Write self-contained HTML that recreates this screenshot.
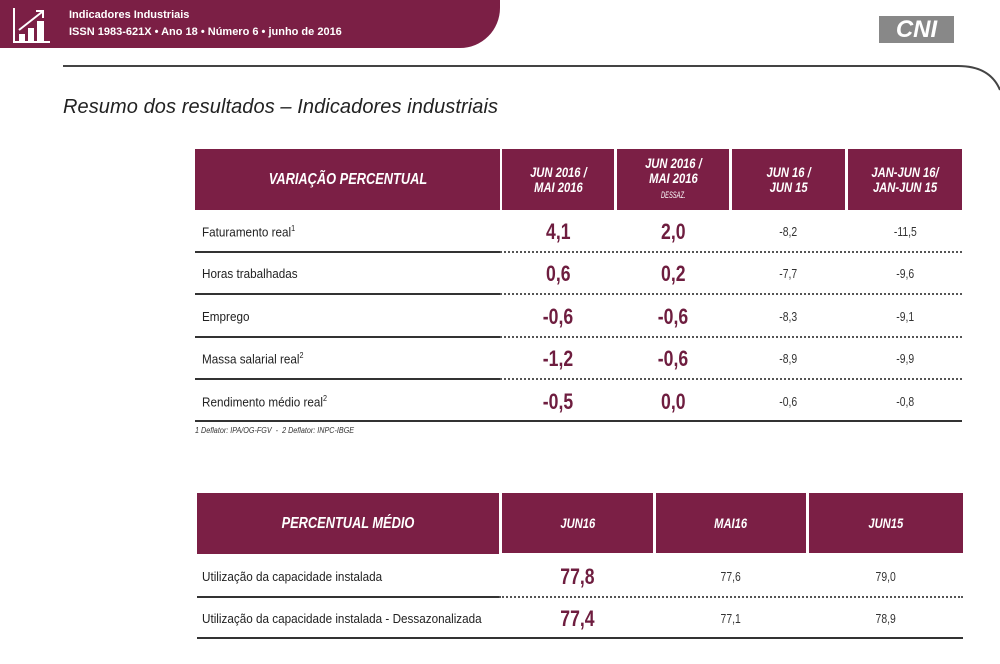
<!DOCTYPE html>
<html><head><meta charset="utf-8"><style>
*{margin:0;padding:0;box-sizing:border-box}
body{width:1000px;height:664px;background:#fff;position:relative;overflow:hidden;font-family:"Liberation Sans",sans-serif;color:#222}
.a{position:absolute}
.band{left:0;top:0;width:500px;height:48px;background:#7b1f45;border-bottom-right-radius:40px}
.hd{background:#7b1f45;color:#fff;font-weight:bold;font-style:italic;display:flex;flex-direction:column;align-items:center;justify-content:center;text-align:center;font-size:14px;line-height:15px}
.hd span,.big span,.sm span{display:inline-block;transform:scaleX(.8)}
.lbl{font-size:13px;color:#222;transform:scaleX(.9);transform-origin:left;white-space:nowrap}
.big{font-size:22px;font-weight:bold;color:#6e1d3f;text-align:center}
.sm{font-size:13px;text-align:center;color:#333}
.sol{height:2px;background:#333}
.dot{height:0;border-top:2px dotted #555}
</style></head><body>
<div class="a band"></div>
<svg class="a" style="left:12px;top:6px" width="40" height="38" viewBox="0 0 40 38"><path d="M2 2V36H38" stroke="#fff" stroke-width="2" fill="none"/><rect x="7" y="28" width="6" height="8" fill="#fff"/><rect x="16" y="22" width="6" height="14" fill="#fff"/><rect x="25" y="15" width="7" height="21" fill="#fff"/><path d="M7 24L30 6M24 5h7v7" stroke="#fff" stroke-width="2" fill="none"/></svg>
<div class="a" style="left:69px;top:7px;color:#fff;font-weight:bold;font-size:11px;line-height:17px">Indicadores Industriais<br>ISSN 1983-621X • Ano 18 • Número 6 • junho de 2016</div>
<div class="a" style="left:879px;top:16px;width:75px;height:27px;background:#888;color:#fff;font:bold italic 24px 'Liberation Sans',sans-serif;text-align:center;line-height:27px">CNI</div>
<div class="a" style="left:63px;top:65px;width:895px;height:2px;background:#444"></div>
<svg class="a" style="left:950px;top:60px" width="50" height="40"><path d="M8 6 Q40 6 50 30" stroke="#444" stroke-width="2" fill="none"/></svg>
<div class="a" style="left:63px;top:96px;font-style:italic;font-size:20px;color:#222;letter-spacing:0.08px;white-space:nowrap">Resumo dos resultados – Indicadores industriais</div>

<div class="a hd" style="left:195px;top:149px;width:305px;height:61px;font-size:16px"><span>VARIAÇÃO PERCENTUAL</span></div>
<div class="a hd" style="left:502px;top:149px;width:112px;height:61px"><span>JUN 2016 /<br>MAI 2016</span></div>
<div class="a hd" style="left:617px;top:149px;width:112px;height:61px"><span>JUN 2016 /<br>MAI 2016<br><span style="font-size:9px;font-weight:normal">DESSAZ.</span></span></div>
<div class="a hd" style="left:732px;top:149px;width:113px;height:61px"><span>JUN 16 /<br>JUN 15</span></div>
<div class="a hd" style="left:848px;top:149px;width:114px;height:61px"><span>JAN-JUN 16/<br>JAN-JUN 15</span></div>

<div class="a lbl" style="left:202px;top:224px">Faturamento real<sup style="font-size:8px">1</sup></div>
<div class="a lbl" style="left:202px;top:266px">Horas trabalhadas</div>
<div class="a lbl" style="left:202px;top:309px">Emprego</div>
<div class="a lbl" style="left:202px;top:351px">Massa salarial real<sup style="font-size:8px">2</sup></div>
<div class="a lbl" style="left:202px;top:394px">Rendimento médio real<sup style="font-size:8px">2</sup></div>

<div class="a big" style="left:502px;top:219px;width:112px"><span>4,1</span></div>
<div class="a big" style="left:617px;top:219px;width:112px"><span>2,0</span></div>
<div class="a sm" style="left:732px;top:224px;width:113px"><span>-8,2</span></div>
<div class="a sm" style="left:848px;top:224px;width:114px"><span>-11,5</span></div>
<div class="a big" style="left:502px;top:261px;width:112px"><span>0,6</span></div>
<div class="a big" style="left:617px;top:261px;width:112px"><span>0,2</span></div>
<div class="a sm" style="left:732px;top:266px;width:113px"><span>-7,7</span></div>
<div class="a sm" style="left:848px;top:266px;width:114px"><span>-9,6</span></div>
<div class="a big" style="left:502px;top:304px;width:112px"><span>-0,6</span></div>
<div class="a big" style="left:617px;top:304px;width:112px"><span>-0,6</span></div>
<div class="a sm" style="left:732px;top:309px;width:113px"><span>-8,3</span></div>
<div class="a sm" style="left:848px;top:309px;width:114px"><span>-9,1</span></div>
<div class="a big" style="left:502px;top:346px;width:112px"><span>-1,2</span></div>
<div class="a big" style="left:617px;top:346px;width:112px"><span>-0,6</span></div>
<div class="a sm" style="left:732px;top:351px;width:113px"><span>-8,9</span></div>
<div class="a sm" style="left:848px;top:351px;width:114px"><span>-9,9</span></div>
<div class="a big" style="left:502px;top:389px;width:112px"><span>-0,5</span></div>
<div class="a big" style="left:617px;top:389px;width:112px"><span>0,0</span></div>
<div class="a sm" style="left:732px;top:394px;width:113px"><span>-0,6</span></div>
<div class="a sm" style="left:848px;top:394px;width:114px"><span>-0,8</span></div>

<div class="a sol" style="left:195px;top:251px;width:305px"></div><div class="a dot" style="left:500px;top:251px;width:462px"></div>
<div class="a sol" style="left:195px;top:293px;width:305px"></div><div class="a dot" style="left:500px;top:293px;width:462px"></div>
<div class="a sol" style="left:195px;top:336px;width:305px"></div><div class="a dot" style="left:500px;top:336px;width:462px"></div>
<div class="a sol" style="left:195px;top:378px;width:305px"></div><div class="a dot" style="left:500px;top:378px;width:462px"></div>
<div class="a sol" style="left:195px;top:420px;width:767px"></div>
<div class="a" style="left:195px;top:426px;font-size:8px;font-style:italic;color:#333;transform:scaleX(.9);transform-origin:left;white-space:nowrap">1 Deflator: IPA/OG-FGV &nbsp;- &nbsp;2 Deflator: INPC-IBGE</div>

<div class="a hd" style="left:197px;top:493px;width:302px;height:61px;font-size:16px"><span>PERCENTUAL MÉDIO</span></div>
<div class="a hd" style="left:502px;top:493px;width:151px;height:60px"><span>JUN16</span></div>
<div class="a hd" style="left:656px;top:493px;width:150px;height:60px"><span>MAI16</span></div>
<div class="a hd" style="left:809px;top:493px;width:154px;height:60px"><span>JUN15</span></div>
<div class="a lbl" style="left:202px;top:569px">Utilização da capacidade instalada</div>
<div class="a lbl" style="left:202px;top:611px">Utilização da capacidade instalada - Dessazonalizada</div>
<div class="a big" style="left:502px;top:564px;width:151px"><span>77,8</span></div>
<div class="a sm" style="left:656px;top:569px;width:150px"><span>77,6</span></div>
<div class="a sm" style="left:809px;top:569px;width:154px"><span>79,0</span></div>
<div class="a big" style="left:502px;top:606px;width:151px"><span>77,4</span></div>
<div class="a sm" style="left:656px;top:611px;width:150px"><span>77,1</span></div>
<div class="a sm" style="left:809px;top:611px;width:154px"><span>78,9</span></div>
<div class="a sol" style="left:197px;top:596px;width:302px"></div><div class="a dot" style="left:499px;top:596px;width:464px"></div>
<div class="a sol" style="left:197px;top:637px;width:766px"></div>
</body></html>
